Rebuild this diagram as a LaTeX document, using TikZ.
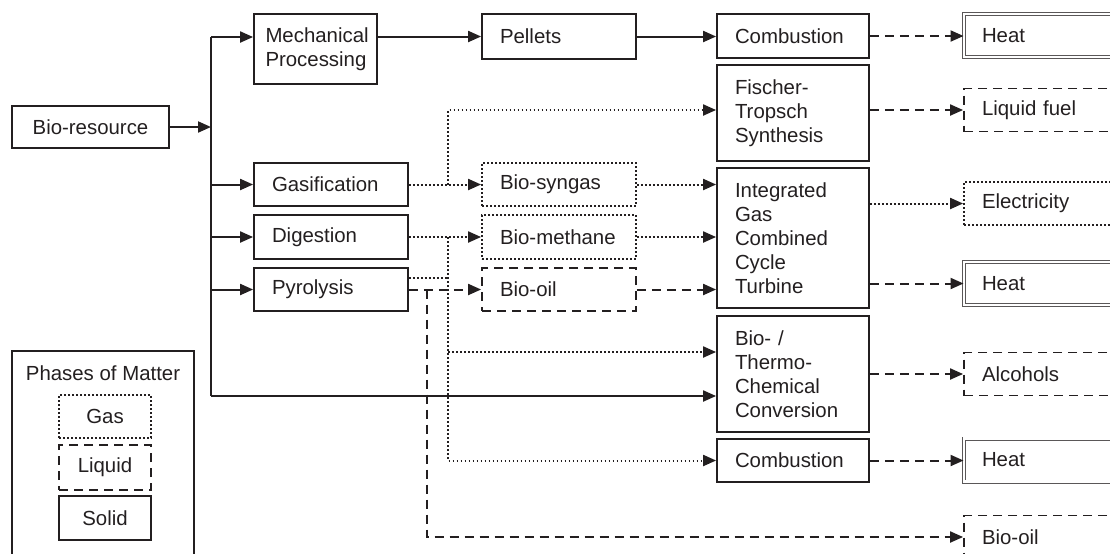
\documentclass[tikz,border=0pt]{standalone}
\usepackage{fontspec}
\setmainfont{Liberation Sans}
\usetikzlibrary{arrows.meta, calc}
\definecolor{ink}{RGB}{35,31,32}
\tikzset{
  box/.style={draw=ink, text=ink, line width=0.9pt, align=left, inner xsep=9pt,
    inner ysep=0pt, font=\fontsize{10.2}{12}\selectfont},
  solidbox/.style={box},
  liquidbox/.style={box, dash pattern=on 4.5pt off 3pt},
  gasbox/.style={box, dash pattern=on 0.9pt off 1.1pt},
  heatbox/.style={box, draw=ink!75, line width=0.45pt, double=white, double distance=1.1pt},
  solidline/.style={draw=ink, line width=1pt},
  liquidline/.style={draw=ink, line width=1pt, dash pattern=on 4.5pt off 3pt},
  gasline/.style={draw=ink, line width=1pt, dash pattern=on 0.9pt off 1.1pt},
  colB/.style={text width=59pt},
  colC/.style={text width=58pt},
  colD/.style={text width=67pt, minimum height=21.5pt}
}

\begin{document}
\begin{tikzpicture}[x=0.5pt, y=-0.5pt, >={Triangle[length=6.5pt, width=5.5pt]}]

    \useasboundingbox (0,0) rectangle (1110,553);
    \clip (0,0) rectangle (1110,553);

    \draw(90.5,127) node[solidbox, align=center, minimum width=78.5pt, minimum height=21pt] (bio) {Bio-resource};

    \draw(315.5,49) node[solidbox, text width=50pt, inner xsep=5.75pt, minimum height=35pt] (mech) {Mechanical\\Processing};
    \draw(331,184.5) node[solidbox, colB, minimum height=21.5pt] (gasif) {Gasification};
    \draw(331,237) node[solidbox, colB, minimum height=22pt] (dig) {Digestion};
    \draw(331,289.5) node[solidbox, colB, minimum height=21.5pt] (pyro) {Pyrolysis};

    \draw(559,36.5) node[solidbox, colB, minimum height=22.5pt] (pel) {Pellets};
    \draw(559,184.5) node[gasbox, colB, minimum height=21.5pt] (syn) {Bio-syngas};
    \draw(559,237) node[gasbox, colB, minimum height=22pt] (meth) {Bio-methane};
    \draw(559,289.5) node[liquidbox, colB, minimum height=21.5pt] (oil1) {Bio-oil};

    \draw(793,36) node[solidbox, colC, minimum height=22pt] (comb1) {Combustion};
    \draw(793,113) node[solidbox, colC, minimum height=48pt] (ft) {Fischer-\\Tropsch\\Synthesis};
    \draw(793,238) node[solidbox, colC, minimum height=70pt] (igcc) {Integrated\\Gas\\Combined\\Cycle\\Turbine};
    \draw(793,374) node[solidbox, colC, minimum height=58pt] (btc) {Bio- /\\Thermo-\\Chemical\\Conversion};
    \draw(793,460.5) node[solidbox, colC, minimum height=21.5pt] (comb2) {Combustion};

    \draw(1049,35.5) node[heatbox, colD] (heat1) {Heat};
    \draw(1049,110) node[liquidbox, colD] (lfuel) {Liquid fuel};
    \draw(1049,203.5) node[gasbox, colD] (elec) {Electricity};
    \draw(1049,283.5) node[heatbox, colD] (heat2) {Heat};
    \draw(1049,374) node[liquidbox, colD] (alc) {Alcohols};
    \draw(1049,460) node[heatbox, colD] (heat3) {Heat};
    \draw(1049,537) node[liquidbox, colD] (oil2) {Bio-oil};

    % legend
    \draw(103,485.5) node[solidbox, minimum width=91pt, minimum height=134.5pt] (leg) {};
    \draw(103,373) node[text=ink, font=\fontsize{10.2}{12}\selectfont] (legt) {Phases of Matter};
    \draw(105,416.5) node[gasbox, align=center, minimum width=46pt, minimum height=21.5pt] (lgas) {Gas};
    \draw(105,467.5) node[liquidbox, align=center, minimum width=46pt, minimum height=22.5pt] (lliq) {Liquid};
    \draw(105,518) node[solidbox, align=center, minimum width=46pt, minimum height=22pt] (lsol) {Solid};

    \coordinate (j) at (211,127);
    \coordinate (ttop) at (211,37);
    \coordinate (tbot) at (211,396);
    \coordinate (gb) at (448,184.5);
    \coordinate (db) at (448,237);
    \coordinate (pg) at (448,278);
    \coordinate (bb) at (448,352);
    \coordinate (ob) at (427,289.5);

    \draw[solidline, ->] (bio) -- (j);
    \draw[solidline] (ttop) -- (tbot);
    \draw[solidline, ->] (ttop) -- (ttop -| mech.west);
    \draw[solidline, ->] (gasif.west -| j) -- (gasif);
    \draw[solidline, ->] (dig.west -| j) -- (dig);
    \draw[solidline, ->] (pyro.west -| j) -- (pyro);
    \draw[solidline, ->] (tbot) -- (tbot -| btc.west);
    \draw[solidline, ->] (mech.east |- pel) -- (pel);
    \draw[solidline, ->] (pel) -- (pel -| comb1.west);

    \draw[gasline, ->] (gasif) -- (syn);
    \draw[gasline, ->] (gb) |- (ft.west |- lfuel);
    \draw[gasline, ->] (syn) -- (syn -| igcc.west);
    \draw[gasline, ->] (dig) -- (meth);
    \draw[gasline, ->] (db) |- (comb2);
    \draw[gasline] (pg -| pyro.east) -- (pg);
    \draw[gasline, ->] (bb) -- (bb -| btc.west);
    \draw[gasline, ->] (meth) -- (meth -| igcc.west);
    \draw[gasline, ->] (igcc.east |- elec) -- (elec);

    \draw[liquidline, ->] (pyro) -- (oil1);
    \draw[liquidline, ->] (ob) |- (oil2);
    \draw[liquidline, ->] (oil1) -- (oil1 -| igcc.west);
    \draw[liquidline, ->] (comb1) -- (comb1 -| heat1.west);
    \draw[liquidline, ->] (ft.east |- lfuel) -- (lfuel);
    \draw[liquidline, ->] (igcc.east |- heat2) -- (heat2);
    \draw[liquidline, ->] (btc) -- (alc);
    \draw[liquidline, ->] (comb2) -- (comb2 -| heat3.west);

\end{tikzpicture}
\end{document}
